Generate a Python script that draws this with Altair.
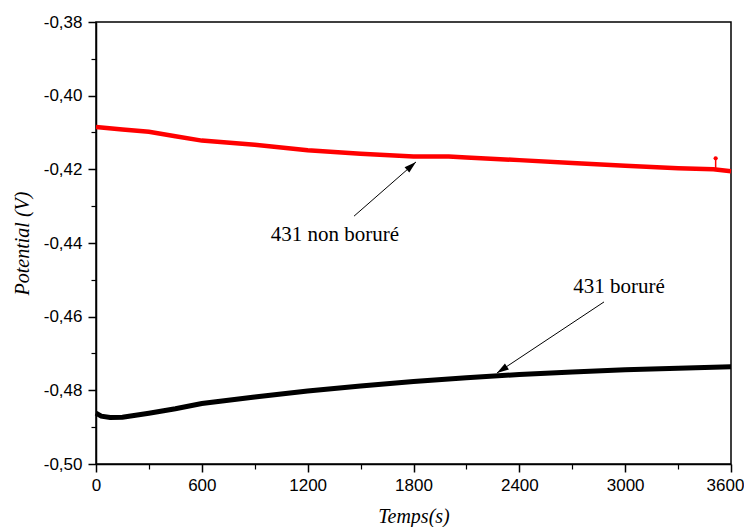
import altair as alt
import pandas as pd

# ---- data ----
red_t = [0, 60, 150, 300, 450, 600, 900, 1200, 1500, 1800, 2000, 2100, 2400, 2700, 3000, 3300, 3500, 3600]
red_v = [-0.4085, -0.4088, -0.4092, -0.4098, -0.4110, -0.4122, -0.4133, -0.4148, -0.4158, -0.4165,
         -0.4165, -0.4168, -0.4175, -0.4183, -0.4190, -0.4197, -0.4200, -0.4205]
black_t = [0, 30, 80, 150, 300, 450, 600, 900, 1200, 1500, 1800, 2100, 2400, 2700, 3000, 3300, 3600]
black_v = [-0.4862, -0.4870, -0.4874, -0.4873, -0.4862, -0.4850, -0.4836, -0.4818, -0.4802, -0.4788,
           -0.4776, -0.4766, -0.4757, -0.4750, -0.4744, -0.4740, -0.4736]
spike_t = [3513]
spike_lo = [-0.4200]
spike_hi = [-0.4170]

labels = ["431 non boruré", "431 boruré"]
label_t = [1355, 2965]
label_v = [-0.4395, -0.4536]
arrow_t0 = [1463, 2880]
arrow_v0 = [-0.4327, -0.4560]
arrow_t1 = [1814, 2273]
arrow_v1 = [-0.4180, -0.4753]
arrow_angle = [48.9, 236.4]

x_ticks = [0, 600, 1200, 1800, 2400, 3000, 3600]
x_minor = [300, 900, 1500, 2100, 2700, 3300]
y_ticks = [-0.50, -0.48, -0.46, -0.44, -0.42, -0.40, -0.38]
y_minor = [-0.49, -0.47, -0.45, -0.43, -0.41, -0.39]

red_df = pd.DataFrame({"t": red_t, "v": red_v})
black_df = pd.DataFrame({"t": black_t, "v": black_v})
spike_df = pd.DataFrame({"t": spike_t, "lo": spike_lo, "hi": spike_hi})
label_df = pd.DataFrame({"t": label_t, "v": label_v, "text": labels})
arrow_df = pd.DataFrame({"t0": arrow_t0, "v0": arrow_v0, "t1": arrow_t1, "v1": arrow_v1, "angle": arrow_angle})

xs = alt.Scale(domain=[0, 3600], nice=False, zero=False)
ys = alt.Scale(domain=[-0.50, -0.38], nice=False, zero=False)

LABEL_FONT = "Liberation Sans"
SERIF = "Liberation Serif"

x_major = alt.Axis(orient="bottom", values=x_ticks, format="d", tickSize=8, tickWidth=1.5,
                   tickColor="black", domainColor="black", domainWidth=1.5, grid=False,
                   labelFont=LABEL_FONT, labelFontSize=17, labelColor="black", labelPadding=5,
                   labelFlush=False, labelOverlap=False,
                   labelOffset={"condition": {"test": "datum.value === 3600", "value": -6}, "value": 0},
                   title="Temps(s)", titleFont=SERIF, titleFontSize=20, titleFontStyle="italic",
                   titleFontWeight="normal", titleColor="black", titleBaseline="alphabetic",
                   titleY=58)
x_minor_ax = alt.Axis(orient="bottom", values=x_minor, labels=False, tickSize=5, tickWidth=1.2,
                      tickColor="black", domain=False, grid=False, title=None)
y_major = alt.Axis(orient="left", values=y_ticks, tickSize=8, tickWidth=1.5,
                   tickColor="black", domainColor="black", domainWidth=1.5, grid=False,
                   labelExpr="'-' + replace(format(-datum.value, '.2f'), '.', ',')",
                   labelFont=LABEL_FONT, labelFontSize=17, labelColor="black", labelPadding=6,
                   labelFlush=False, labelOverlap=False,
                   title="Potential (V)", titleFont=SERIF, titleFontSize=20, titleFontStyle="italic",
                   titleFontWeight="normal", titleColor="black", titleBaseline="alphabetic",
                   titleX=-68)
y_minor_ax = alt.Axis(orient="left", values=y_minor, labels=False, tickSize=5, tickWidth=1.2,
                      tickColor="black", domain=False, grid=False, title=None)

red_line = alt.Chart(red_df).mark_line(color="#ff0000", strokeWidth=4.5).encode(
    x=alt.X("t:Q", scale=xs, axis=x_major),
    y=alt.Y("v:Q", scale=ys, axis=y_major),
)
black_line = alt.Chart(black_df).mark_line(color="black", strokeWidth=5).encode(
    x=alt.X("t:Q", scale=xs, axis=x_minor_ax),
    y=alt.Y("v:Q", scale=ys, axis=y_minor_ax),
)
spike = alt.Chart(spike_df).mark_rule(color="#ff0000", strokeWidth=1.5).encode(
    x=alt.X("t:Q", scale=xs, axis=None),
    y=alt.Y("lo:Q", scale=ys, axis=None),
    y2="hi:Q",
)
spike_dot = alt.Chart(spike_df).mark_point(color="#ff0000", filled=True, size=18, opacity=1).encode(
    x=alt.X("t:Q", scale=xs, axis=None),
    y=alt.Y("hi:Q", scale=ys, axis=None),
)
text = alt.Chart(label_df).mark_text(font=SERIF, fontSize=21, color="black",
                                     align="center", baseline="alphabetic").encode(
    x=alt.X("t:Q", scale=xs, axis=None),
    y=alt.Y("v:Q", scale=ys, axis=None),
    text="text:N",
)
arrow_line = alt.Chart(arrow_df).mark_rule(color="black", strokeWidth=1).encode(
    x=alt.X("t0:Q", scale=xs, axis=None),
    y=alt.Y("v0:Q", scale=ys, axis=None),
    x2="t1:Q",
    y2="v1:Q",
)
arrow_head = alt.Chart(arrow_df).mark_point(
    shape="M0,0 L-0.6,2 L0.6,2 Z", filled=True, color="black", size=144, opacity=1
).encode(
    x=alt.X("t1:Q", scale=xs, axis=None),
    y=alt.Y("v1:Q", scale=ys, axis=None),
    angle=alt.Angle("angle:Q", scale=None),
)

chart = alt.layer(
    red_line, black_line, spike, spike_dot, arrow_line, arrow_head, text
).resolve_axis(
    x="independent", y="independent"
).properties(
    width=635,
    height=442,
    autosize=alt.AutoSizeParams(type="none"),
    padding={"left": 88, "top": 14, "right": 13, "bottom": 63},
    background="white",
).configure_view(
    stroke="black", strokeWidth=1.5
)

chart.save("out.html", embed_options={"renderer": "svg", "actions": False})
